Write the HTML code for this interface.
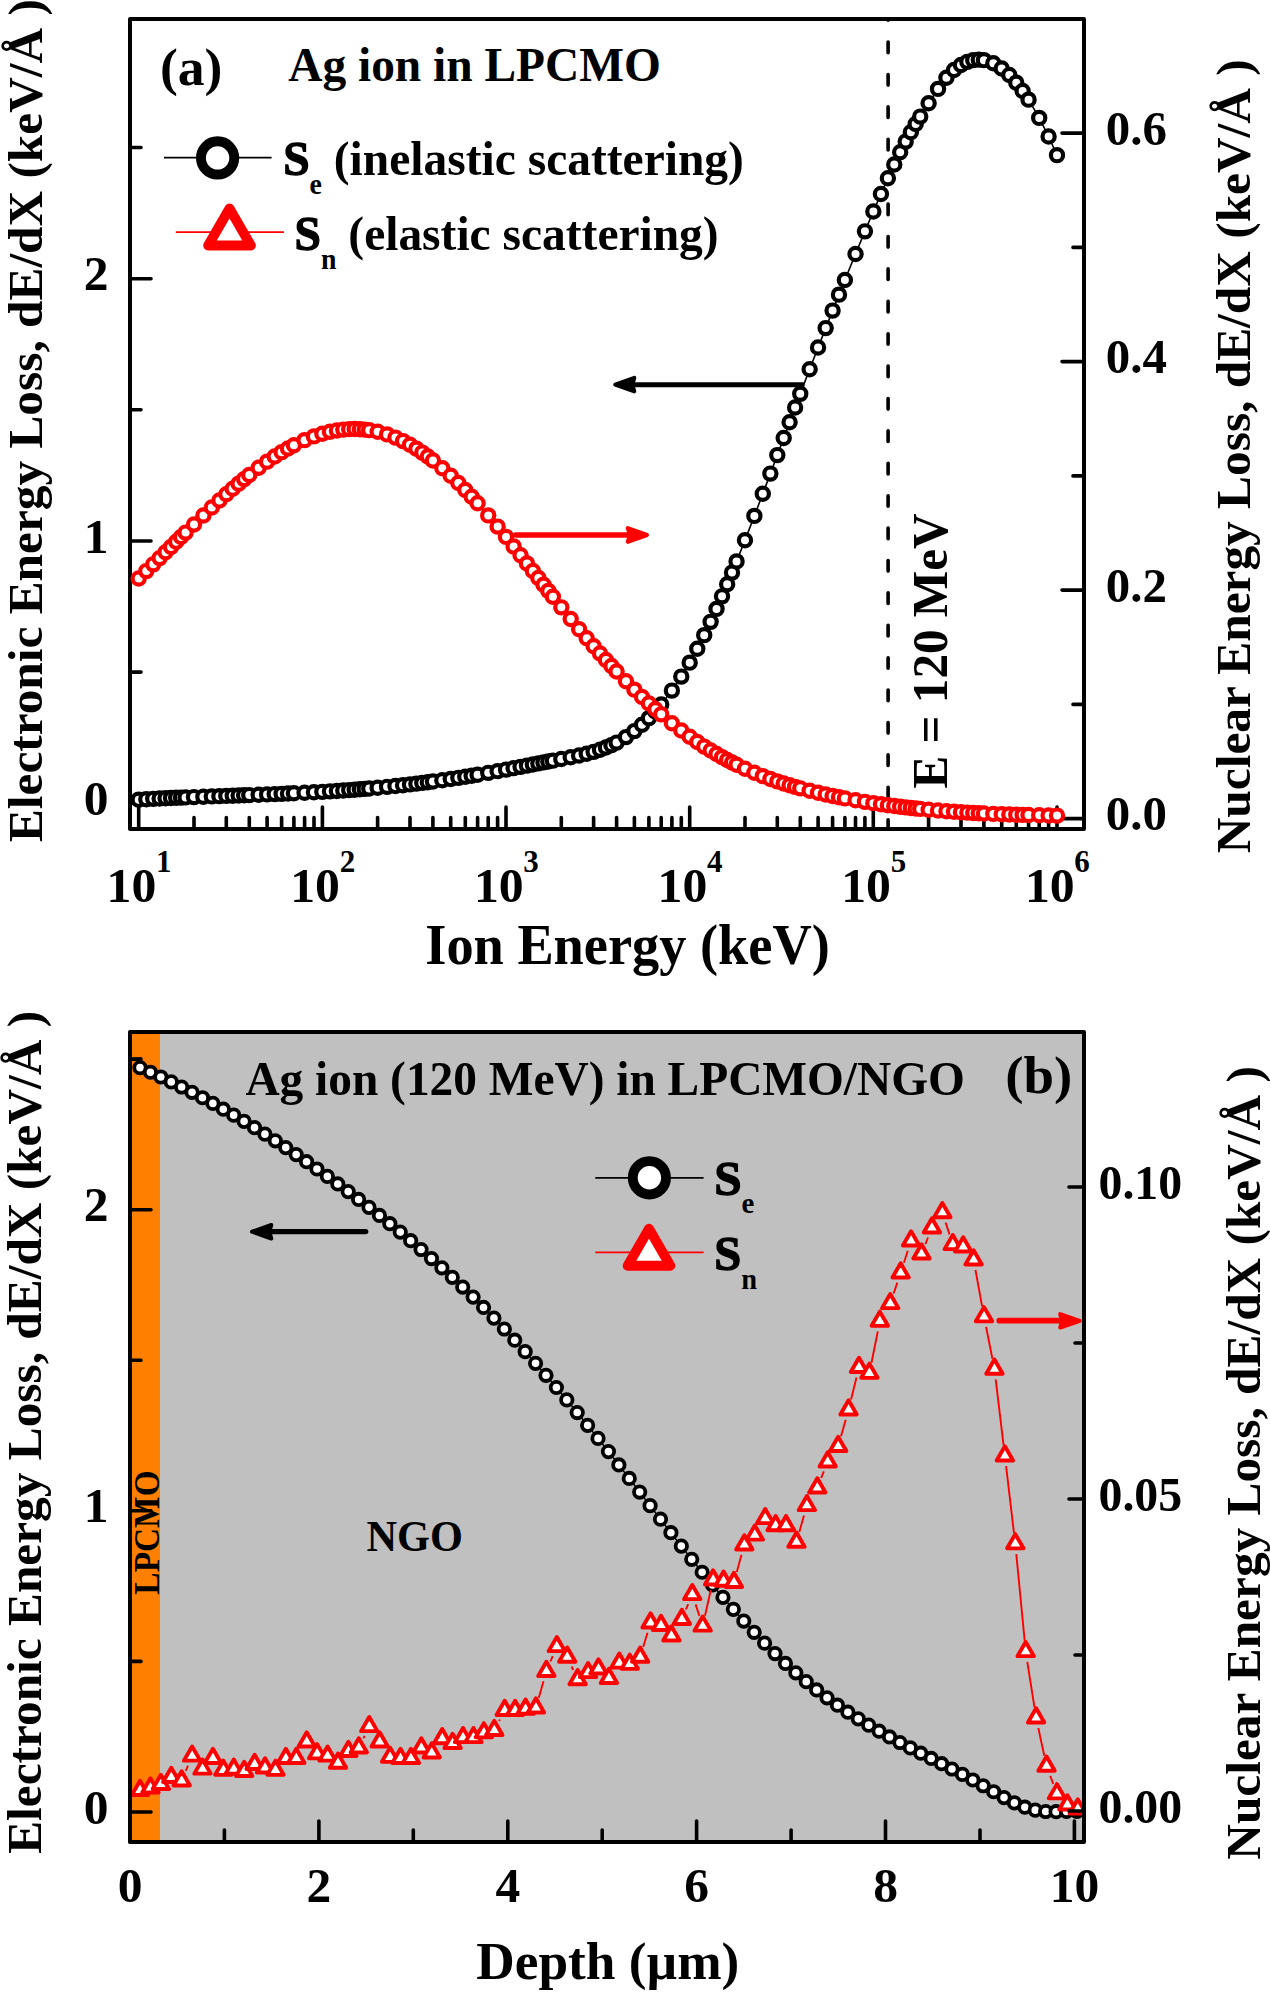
<!DOCTYPE html><html><head><meta charset="utf-8"><title>SRIM stopping power</title><style>html,body{margin:0;padding:0;background:#fff;width:1270px;height:1992px;overflow:hidden}</style></head><body><svg width="1270" height="1992" viewBox="0 0 1270 1992" style="display:block;font-family:'Liberation Serif', serif;font-weight:bold">
<rect width="1270" height="1992" fill="#fff"/>
<path d="M888.1,19.0V20.3M888.1,42.1V52.7M888.1,74.5V85.1M888.1,106.9V117.5M888.1,139.3V149.9M888.1,171.7V182.3M888.1,204.1V214.7M888.1,236.5V247.1M888.1,268.9V279.5M888.1,301.3V311.9M888.1,333.7V344.3M888.1,366.1V376.7M888.1,398.5V409.1M888.1,430.9V441.5M888.1,463.3V473.9M888.1,495.7V506.3M888.1,528.1V538.7M888.1,560.5V571.1M888.1,592.9V603.5M888.1,625.3V635.9M888.1,657.7V668.3M888.1,690.1V700.7M888.1,722.5V733.1M888.1,754.9V765.5M888.1,787.3V797.9M888.1,819.7V829.0" stroke="#000" stroke-width="3.6" fill="none" stroke-linecap="round"/>
<path d="M130,803.3H151M130,541.0H151M130,278.7H151M130,672.1H141M130,409.8H141M130,147.5H141M1084,818.6H1062M1084,590.1H1062M1084,361.6H1062M1084,133.1H1062M1084,704.4H1073M1084,475.9H1073M1084,247.4H1073M138.7,829V807M194.0,829V817.5M226.3,829V817.5M249.3,829V817.5M267.1,829V817.5M281.6,829V817.5M293.9,829V817.5M304.6,829V817.5M314.0,829V817.5M322.4,829V807M377.6,829V817.5M410.0,829V817.5M432.9,829V817.5M450.7,829V817.5M465.3,829V817.5M477.6,829V817.5M488.2,829V817.5M497.6,829V817.5M506.0,829V807M561.3,829V817.5M593.6,829V817.5M616.6,829V817.5M634.4,829V817.5M648.9,829V817.5M661.2,829V817.5M671.9,829V817.5M681.3,829V817.5M689.7,829V807M745.0,829V817.5M777.3,829V817.5M800.3,829V817.5M818.1,829V817.5M832.6,829V817.5M844.9,829V817.5M855.5,829V817.5M864.9,829V817.5M873.3,829V807M928.6,829V817.5M961.0,829V817.5M983.9,829V817.5M1001.7,829V817.5M1016.3,829V817.5M1028.6,829V817.5M1039.2,829V817.5M1048.6,829V817.5M1057.0,829V807" stroke="#000" stroke-width="3.6" fill="none" stroke-linecap="round"/>
<rect x="130" y="19" width="954" height="810" fill="none" stroke="#000" stroke-width="4" stroke-linejoin="round"/>
<polyline points="138.7,799.6 146.3,799.2 153.2,798.9 159.6,798.6 165.5,798.3 171.0,798.0 176.2,797.8 181.0,797.6 185.6,797.4 194.0,797.1 203.4,796.7 211.8,796.4 219.4,796.2 226.3,795.9 232.7,795.7 238.6,795.5 244.1,795.3 249.3,795.1 258.7,794.7 267.1,794.4 274.7,794.1 281.6,793.8 288.0,793.6 293.9,793.3 304.6,792.8 314.0,792.3 322.4,791.8 330.0,791.4 336.9,790.9 343.3,790.5 349.2,790.1 354.7,789.7 359.8,789.3 364.7,788.9 369.2,788.5 377.6,787.8 387.0,786.9 395.4,786.0 403.0,785.2 410.0,784.4 416.4,783.6 422.3,782.9 427.8,782.2 432.9,781.5 442.3,780.2 450.7,779.0 458.3,777.9 465.3,776.8 471.7,775.7 477.6,774.7 488.2,772.9 497.6,771.2 506.0,769.6 513.6,768.2 520.6,766.8 526.9,765.6 532.9,764.5 538.4,763.4 543.5,762.4 548.3,761.5 552.9,760.6 561.3,759.1 570.7,757.3 579.1,755.6 586.7,753.8 593.6,751.8 600.0,749.8 605.9,747.5 611.4,745.1 616.6,742.6 626.0,737.1 634.4,731.1 642.0,724.7 648.9,718.2 655.3,711.4 661.2,704.5 671.9,690.6 681.3,676.6 689.7,662.6 697.3,648.8 704.2,635.2 710.6,621.8 716.5,608.9 722.0,596.3 727.2,584.3 732.0,572.6 736.6,561.4 745.0,540.2 754.4,515.9 762.8,493.8 770.4,473.6 777.3,455.1 783.7,438.0 789.6,422.2 795.1,407.5 800.3,393.9 809.6,369.2 818.1,347.5 825.7,328.1 832.6,310.6 839.0,294.7 844.9,280.0 855.5,254.0 864.9,231.4 873.3,211.5 880.9,194.0 887.9,178.3 894.3,164.4 900.2,152.2 905.7,141.6 910.8,132.3 915.7,124.1 920.2,116.6 928.6,103.3 938.0,88.9 946.4,77.7 954.0,70.0 961.0,65.0 967.4,61.8 973.3,60.2 978.8,59.7 983.9,60.1 993.3,63.2 1001.7,68.4 1009.3,75.1 1016.3,82.7 1022.6,90.9 1028.6,99.7 1039.2,117.9 1048.6,136.5 1057.0,155.1" fill="none" stroke="#000" stroke-width="1.6"/>
<circle cx="138.70" cy="799.64" r="6.1" fill="#fff" stroke="#000" stroke-width="4.2"/>
<circle cx="146.30" cy="799.22" r="6.1" fill="#fff" stroke="#000" stroke-width="4.2"/>
<circle cx="153.24" cy="798.87" r="6.1" fill="#fff" stroke="#000" stroke-width="4.2"/>
<circle cx="159.63" cy="798.55" r="6.1" fill="#fff" stroke="#000" stroke-width="4.2"/>
<circle cx="165.54" cy="798.27" r="6.1" fill="#fff" stroke="#000" stroke-width="4.2"/>
<circle cx="171.04" cy="798.03" r="6.1" fill="#fff" stroke="#000" stroke-width="4.2"/>
<circle cx="176.19" cy="797.80" r="6.1" fill="#fff" stroke="#000" stroke-width="4.2"/>
<circle cx="181.02" cy="797.60" r="6.1" fill="#fff" stroke="#000" stroke-width="4.2"/>
<circle cx="185.58" cy="797.41" r="6.1" fill="#fff" stroke="#000" stroke-width="4.2"/>
<circle cx="193.99" cy="797.08" r="6.1" fill="#fff" stroke="#000" stroke-width="4.2"/>
<circle cx="203.38" cy="796.73" r="6.1" fill="#fff" stroke="#000" stroke-width="4.2"/>
<circle cx="211.79" cy="796.42" r="6.1" fill="#fff" stroke="#000" stroke-width="4.2"/>
<circle cx="219.39" cy="796.15" r="6.1" fill="#fff" stroke="#000" stroke-width="4.2"/>
<circle cx="226.33" cy="795.90" r="6.1" fill="#fff" stroke="#000" stroke-width="4.2"/>
<circle cx="232.71" cy="795.68" r="6.1" fill="#fff" stroke="#000" stroke-width="4.2"/>
<circle cx="238.62" cy="795.47" r="6.1" fill="#fff" stroke="#000" stroke-width="4.2"/>
<circle cx="244.13" cy="795.27" r="6.1" fill="#fff" stroke="#000" stroke-width="4.2"/>
<circle cx="249.27" cy="795.09" r="6.1" fill="#fff" stroke="#000" stroke-width="4.2"/>
<circle cx="258.67" cy="794.74" r="6.1" fill="#fff" stroke="#000" stroke-width="4.2"/>
<circle cx="267.07" cy="794.42" r="6.1" fill="#fff" stroke="#000" stroke-width="4.2"/>
<circle cx="274.68" cy="794.12" r="6.1" fill="#fff" stroke="#000" stroke-width="4.2"/>
<circle cx="281.62" cy="793.83" r="6.1" fill="#fff" stroke="#000" stroke-width="4.2"/>
<circle cx="288.00" cy="793.56" r="6.1" fill="#fff" stroke="#000" stroke-width="4.2"/>
<circle cx="293.91" cy="793.29" r="6.1" fill="#fff" stroke="#000" stroke-width="4.2"/>
<circle cx="304.56" cy="792.78" r="6.1" fill="#fff" stroke="#000" stroke-width="4.2"/>
<circle cx="313.96" cy="792.29" r="6.1" fill="#fff" stroke="#000" stroke-width="4.2"/>
<circle cx="322.36" cy="791.83" r="6.1" fill="#fff" stroke="#000" stroke-width="4.2"/>
<circle cx="329.96" cy="791.37" r="6.1" fill="#fff" stroke="#000" stroke-width="4.2"/>
<circle cx="336.90" cy="790.94" r="6.1" fill="#fff" stroke="#000" stroke-width="4.2"/>
<circle cx="343.29" cy="790.51" r="6.1" fill="#fff" stroke="#000" stroke-width="4.2"/>
<circle cx="349.20" cy="790.09" r="6.1" fill="#fff" stroke="#000" stroke-width="4.2"/>
<circle cx="354.70" cy="789.68" r="6.1" fill="#fff" stroke="#000" stroke-width="4.2"/>
<circle cx="359.85" cy="789.28" r="6.1" fill="#fff" stroke="#000" stroke-width="4.2"/>
<circle cx="364.68" cy="788.89" r="6.1" fill="#fff" stroke="#000" stroke-width="4.2"/>
<circle cx="369.24" cy="788.51" r="6.1" fill="#fff" stroke="#000" stroke-width="4.2"/>
<circle cx="377.65" cy="787.76" r="6.1" fill="#fff" stroke="#000" stroke-width="4.2"/>
<circle cx="387.04" cy="786.86" r="6.1" fill="#fff" stroke="#000" stroke-width="4.2"/>
<circle cx="395.45" cy="786.01" r="6.1" fill="#fff" stroke="#000" stroke-width="4.2"/>
<circle cx="403.05" cy="785.19" r="6.1" fill="#fff" stroke="#000" stroke-width="4.2"/>
<circle cx="409.99" cy="784.40" r="6.1" fill="#fff" stroke="#000" stroke-width="4.2"/>
<circle cx="416.37" cy="783.64" r="6.1" fill="#fff" stroke="#000" stroke-width="4.2"/>
<circle cx="422.28" cy="782.91" r="6.1" fill="#fff" stroke="#000" stroke-width="4.2"/>
<circle cx="427.79" cy="782.21" r="6.1" fill="#fff" stroke="#000" stroke-width="4.2"/>
<circle cx="432.93" cy="781.53" r="6.1" fill="#fff" stroke="#000" stroke-width="4.2"/>
<circle cx="442.33" cy="780.24" r="6.1" fill="#fff" stroke="#000" stroke-width="4.2"/>
<circle cx="450.73" cy="779.02" r="6.1" fill="#fff" stroke="#000" stroke-width="4.2"/>
<circle cx="458.34" cy="777.87" r="6.1" fill="#fff" stroke="#000" stroke-width="4.2"/>
<circle cx="465.28" cy="776.77" r="6.1" fill="#fff" stroke="#000" stroke-width="4.2"/>
<circle cx="471.66" cy="775.73" r="6.1" fill="#fff" stroke="#000" stroke-width="4.2"/>
<circle cx="477.57" cy="774.74" r="6.1" fill="#fff" stroke="#000" stroke-width="4.2"/>
<circle cx="488.22" cy="772.87" r="6.1" fill="#fff" stroke="#000" stroke-width="4.2"/>
<circle cx="497.62" cy="771.17" r="6.1" fill="#fff" stroke="#000" stroke-width="4.2"/>
<circle cx="506.02" cy="769.60" r="6.1" fill="#fff" stroke="#000" stroke-width="4.2"/>
<circle cx="513.62" cy="768.17" r="6.1" fill="#fff" stroke="#000" stroke-width="4.2"/>
<circle cx="520.56" cy="766.84" r="6.1" fill="#fff" stroke="#000" stroke-width="4.2"/>
<circle cx="526.95" cy="765.61" r="6.1" fill="#fff" stroke="#000" stroke-width="4.2"/>
<circle cx="532.86" cy="764.47" r="6.1" fill="#fff" stroke="#000" stroke-width="4.2"/>
<circle cx="538.36" cy="763.41" r="6.1" fill="#fff" stroke="#000" stroke-width="4.2"/>
<circle cx="543.51" cy="762.42" r="6.1" fill="#fff" stroke="#000" stroke-width="4.2"/>
<circle cx="548.34" cy="761.50" r="6.1" fill="#fff" stroke="#000" stroke-width="4.2"/>
<circle cx="552.90" cy="760.64" r="6.1" fill="#fff" stroke="#000" stroke-width="4.2"/>
<circle cx="561.31" cy="759.06" r="6.1" fill="#fff" stroke="#000" stroke-width="4.2"/>
<circle cx="570.70" cy="757.29" r="6.1" fill="#fff" stroke="#000" stroke-width="4.2"/>
<circle cx="579.11" cy="755.56" r="6.1" fill="#fff" stroke="#000" stroke-width="4.2"/>
<circle cx="586.71" cy="753.76" r="6.1" fill="#fff" stroke="#000" stroke-width="4.2"/>
<circle cx="593.65" cy="751.84" r="6.1" fill="#fff" stroke="#000" stroke-width="4.2"/>
<circle cx="600.03" cy="749.76" r="6.1" fill="#fff" stroke="#000" stroke-width="4.2"/>
<circle cx="605.94" cy="747.53" r="6.1" fill="#fff" stroke="#000" stroke-width="4.2"/>
<circle cx="611.45" cy="745.14" r="6.1" fill="#fff" stroke="#000" stroke-width="4.2"/>
<circle cx="616.59" cy="742.59" r="6.1" fill="#fff" stroke="#000" stroke-width="4.2"/>
<circle cx="625.99" cy="737.08" r="6.1" fill="#fff" stroke="#000" stroke-width="4.2"/>
<circle cx="634.39" cy="731.08" r="6.1" fill="#fff" stroke="#000" stroke-width="4.2"/>
<circle cx="642.00" cy="724.74" r="6.1" fill="#fff" stroke="#000" stroke-width="4.2"/>
<circle cx="648.94" cy="718.15" r="6.1" fill="#fff" stroke="#000" stroke-width="4.2"/>
<circle cx="655.32" cy="711.40" r="6.1" fill="#fff" stroke="#000" stroke-width="4.2"/>
<circle cx="661.23" cy="704.53" r="6.1" fill="#fff" stroke="#000" stroke-width="4.2"/>
<circle cx="671.88" cy="690.60" r="6.1" fill="#fff" stroke="#000" stroke-width="4.2"/>
<circle cx="681.28" cy="676.59" r="6.1" fill="#fff" stroke="#000" stroke-width="4.2"/>
<circle cx="689.68" cy="662.63" r="6.1" fill="#fff" stroke="#000" stroke-width="4.2"/>
<circle cx="697.28" cy="648.80" r="6.1" fill="#fff" stroke="#000" stroke-width="4.2"/>
<circle cx="704.22" cy="635.16" r="6.1" fill="#fff" stroke="#000" stroke-width="4.2"/>
<circle cx="710.61" cy="621.83" r="6.1" fill="#fff" stroke="#000" stroke-width="4.2"/>
<circle cx="716.52" cy="608.88" r="6.1" fill="#fff" stroke="#000" stroke-width="4.2"/>
<circle cx="722.02" cy="596.35" r="6.1" fill="#fff" stroke="#000" stroke-width="4.2"/>
<circle cx="727.17" cy="584.26" r="6.1" fill="#fff" stroke="#000" stroke-width="4.2"/>
<circle cx="732.00" cy="572.61" r="6.1" fill="#fff" stroke="#000" stroke-width="4.2"/>
<circle cx="736.56" cy="561.39" r="6.1" fill="#fff" stroke="#000" stroke-width="4.2"/>
<circle cx="744.97" cy="540.20" r="6.1" fill="#fff" stroke="#000" stroke-width="4.2"/>
<circle cx="754.36" cy="515.92" r="6.1" fill="#fff" stroke="#000" stroke-width="4.2"/>
<circle cx="762.77" cy="493.82" r="6.1" fill="#fff" stroke="#000" stroke-width="4.2"/>
<circle cx="770.37" cy="473.62" r="6.1" fill="#fff" stroke="#000" stroke-width="4.2"/>
<circle cx="777.31" cy="455.08" r="6.1" fill="#fff" stroke="#000" stroke-width="4.2"/>
<circle cx="783.69" cy="438.00" r="6.1" fill="#fff" stroke="#000" stroke-width="4.2"/>
<circle cx="789.60" cy="422.19" r="6.1" fill="#fff" stroke="#000" stroke-width="4.2"/>
<circle cx="795.11" cy="407.53" r="6.1" fill="#fff" stroke="#000" stroke-width="4.2"/>
<circle cx="800.25" cy="393.87" r="6.1" fill="#fff" stroke="#000" stroke-width="4.2"/>
<circle cx="809.65" cy="369.20" r="6.1" fill="#fff" stroke="#000" stroke-width="4.2"/>
<circle cx="818.05" cy="347.47" r="6.1" fill="#fff" stroke="#000" stroke-width="4.2"/>
<circle cx="825.66" cy="328.08" r="6.1" fill="#fff" stroke="#000" stroke-width="4.2"/>
<circle cx="832.60" cy="310.59" r="6.1" fill="#fff" stroke="#000" stroke-width="4.2"/>
<circle cx="838.98" cy="294.65" r="6.1" fill="#fff" stroke="#000" stroke-width="4.2"/>
<circle cx="844.89" cy="280.02" r="6.1" fill="#fff" stroke="#000" stroke-width="4.2"/>
<circle cx="855.54" cy="253.96" r="6.1" fill="#fff" stroke="#000" stroke-width="4.2"/>
<circle cx="864.94" cy="231.37" r="6.1" fill="#fff" stroke="#000" stroke-width="4.2"/>
<circle cx="873.34" cy="211.54" r="6.1" fill="#fff" stroke="#000" stroke-width="4.2"/>
<circle cx="880.94" cy="193.97" r="6.1" fill="#fff" stroke="#000" stroke-width="4.2"/>
<circle cx="887.88" cy="178.30" r="6.1" fill="#fff" stroke="#000" stroke-width="4.2"/>
<circle cx="894.27" cy="164.43" r="6.1" fill="#fff" stroke="#000" stroke-width="4.2"/>
<circle cx="900.18" cy="152.23" r="6.1" fill="#fff" stroke="#000" stroke-width="4.2"/>
<circle cx="905.68" cy="141.59" r="6.1" fill="#fff" stroke="#000" stroke-width="4.2"/>
<circle cx="910.83" cy="132.30" r="6.1" fill="#fff" stroke="#000" stroke-width="4.2"/>
<circle cx="915.66" cy="124.06" r="6.1" fill="#fff" stroke="#000" stroke-width="4.2"/>
<circle cx="920.22" cy="116.60" r="6.1" fill="#fff" stroke="#000" stroke-width="4.2"/>
<circle cx="928.63" cy="103.30" r="6.1" fill="#fff" stroke="#000" stroke-width="4.2"/>
<circle cx="938.02" cy="88.91" r="6.1" fill="#fff" stroke="#000" stroke-width="4.2"/>
<circle cx="946.43" cy="77.71" r="6.1" fill="#fff" stroke="#000" stroke-width="4.2"/>
<circle cx="954.03" cy="70.01" r="6.1" fill="#fff" stroke="#000" stroke-width="4.2"/>
<circle cx="960.97" cy="64.97" r="6.1" fill="#fff" stroke="#000" stroke-width="4.2"/>
<circle cx="967.35" cy="61.83" r="6.1" fill="#fff" stroke="#000" stroke-width="4.2"/>
<circle cx="973.26" cy="60.16" r="6.1" fill="#fff" stroke="#000" stroke-width="4.2"/>
<circle cx="978.77" cy="59.67" r="6.1" fill="#fff" stroke="#000" stroke-width="4.2"/>
<circle cx="983.91" cy="60.13" r="6.1" fill="#fff" stroke="#000" stroke-width="4.2"/>
<circle cx="993.31" cy="63.22" r="6.1" fill="#fff" stroke="#000" stroke-width="4.2"/>
<circle cx="1001.71" cy="68.43" r="6.1" fill="#fff" stroke="#000" stroke-width="4.2"/>
<circle cx="1009.32" cy="75.06" r="6.1" fill="#fff" stroke="#000" stroke-width="4.2"/>
<circle cx="1016.26" cy="82.67" r="6.1" fill="#fff" stroke="#000" stroke-width="4.2"/>
<circle cx="1022.64" cy="90.95" r="6.1" fill="#fff" stroke="#000" stroke-width="4.2"/>
<circle cx="1028.55" cy="99.67" r="6.1" fill="#fff" stroke="#000" stroke-width="4.2"/>
<circle cx="1039.20" cy="117.88" r="6.1" fill="#fff" stroke="#000" stroke-width="4.2"/>
<circle cx="1048.60" cy="136.52" r="6.1" fill="#fff" stroke="#000" stroke-width="4.2"/>
<circle cx="1057.00" cy="155.15" r="6.1" fill="#fff" stroke="#000" stroke-width="4.2"/>
<polyline points="138.7,578.4 146.3,571.1 153.2,564.4 159.6,558.1 165.5,552.3 171.0,546.9 176.2,541.8 181.0,537.1 185.6,532.6 194.0,524.4 203.4,515.4 211.8,507.5 219.4,500.5 226.3,494.3 232.7,488.7 238.6,483.7 244.1,479.1 249.3,475.0 258.7,467.7 267.1,461.7 274.7,456.5 281.6,452.2 288.0,448.4 293.9,445.2 304.6,440.1 314.0,436.4 322.4,433.7 330.0,431.8 336.9,430.4 343.3,429.6 349.2,429.2 354.7,429.1 359.8,429.2 364.7,429.6 369.2,430.2 377.6,431.8 387.0,434.4 395.4,437.6 403.0,441.1 410.0,444.8 416.4,448.7 422.3,452.6 427.8,456.5 432.9,460.5 442.3,468.2 450.7,475.7 458.3,483.0 465.3,490.0 471.7,496.8 477.6,503.2 488.2,515.4 497.6,526.6 506.0,536.9 513.6,546.4 520.6,555.2 526.9,563.4 532.9,571.0 538.4,578.1 543.5,584.7 548.3,590.9 552.9,596.7 561.3,607.4 570.7,619.0 579.1,629.2 586.7,638.2 593.6,646.3 600.0,653.5 605.9,660.1 611.4,666.0 616.6,671.5 626.0,681.3 634.4,689.7 642.0,697.0 648.9,703.4 655.3,709.2 661.2,714.3 671.9,723.2 681.3,730.5 689.7,736.7 697.3,742.0 704.2,746.6 710.6,750.6 716.5,754.1 722.0,757.2 727.2,759.9 732.0,762.5 736.6,764.7 745.0,768.7 754.4,772.8 762.8,776.1 770.4,779.0 777.3,781.4 783.7,783.5 789.6,785.3 795.1,786.9 800.3,788.3 809.6,790.8 818.1,792.8 825.7,794.5 832.6,796.0 839.0,797.3 844.9,798.4 855.5,800.3 864.9,801.8 873.3,803.1 880.9,804.2 887.9,805.2 894.3,806.0 900.2,806.7 905.7,807.4 910.8,808.0 915.7,808.5 920.2,808.9 928.6,809.7 938.0,810.5 946.4,811.2 954.0,811.7 961.0,812.2 967.4,812.6 973.3,812.9 978.8,813.2 983.9,813.5 993.3,813.9 1001.7,814.2 1009.3,814.5 1016.3,814.7 1022.6,814.9 1028.6,815.0 1039.2,815.3 1048.6,815.5 1057.0,815.6" fill="none" stroke="#f00" stroke-width="1.6"/>
<circle cx="138.70" cy="578.43" r="6.1" fill="#fff" stroke="#f00" stroke-width="4.2"/>
<circle cx="146.30" cy="571.11" r="6.1" fill="#fff" stroke="#f00" stroke-width="4.2"/>
<circle cx="153.24" cy="564.36" r="6.1" fill="#fff" stroke="#f00" stroke-width="4.2"/>
<circle cx="159.63" cy="558.10" r="6.1" fill="#fff" stroke="#f00" stroke-width="4.2"/>
<circle cx="165.54" cy="552.29" r="6.1" fill="#fff" stroke="#f00" stroke-width="4.2"/>
<circle cx="171.04" cy="546.88" r="6.1" fill="#fff" stroke="#f00" stroke-width="4.2"/>
<circle cx="176.19" cy="541.81" r="6.1" fill="#fff" stroke="#f00" stroke-width="4.2"/>
<circle cx="181.02" cy="537.06" r="6.1" fill="#fff" stroke="#f00" stroke-width="4.2"/>
<circle cx="185.58" cy="532.60" r="6.1" fill="#fff" stroke="#f00" stroke-width="4.2"/>
<circle cx="193.99" cy="524.43" r="6.1" fill="#fff" stroke="#f00" stroke-width="4.2"/>
<circle cx="203.38" cy="515.43" r="6.1" fill="#fff" stroke="#f00" stroke-width="4.2"/>
<circle cx="211.79" cy="507.53" r="6.1" fill="#fff" stroke="#f00" stroke-width="4.2"/>
<circle cx="219.39" cy="500.53" r="6.1" fill="#fff" stroke="#f00" stroke-width="4.2"/>
<circle cx="226.33" cy="494.30" r="6.1" fill="#fff" stroke="#f00" stroke-width="4.2"/>
<circle cx="232.71" cy="488.70" r="6.1" fill="#fff" stroke="#f00" stroke-width="4.2"/>
<circle cx="238.62" cy="483.67" r="6.1" fill="#fff" stroke="#f00" stroke-width="4.2"/>
<circle cx="244.13" cy="479.11" r="6.1" fill="#fff" stroke="#f00" stroke-width="4.2"/>
<circle cx="249.27" cy="474.96" r="6.1" fill="#fff" stroke="#f00" stroke-width="4.2"/>
<circle cx="258.67" cy="467.73" r="6.1" fill="#fff" stroke="#f00" stroke-width="4.2"/>
<circle cx="267.07" cy="461.67" r="6.1" fill="#fff" stroke="#f00" stroke-width="4.2"/>
<circle cx="274.68" cy="456.53" r="6.1" fill="#fff" stroke="#f00" stroke-width="4.2"/>
<circle cx="281.62" cy="452.17" r="6.1" fill="#fff" stroke="#f00" stroke-width="4.2"/>
<circle cx="288.00" cy="448.44" r="6.1" fill="#fff" stroke="#f00" stroke-width="4.2"/>
<circle cx="293.91" cy="445.24" r="6.1" fill="#fff" stroke="#f00" stroke-width="4.2"/>
<circle cx="304.56" cy="440.15" r="6.1" fill="#fff" stroke="#f00" stroke-width="4.2"/>
<circle cx="313.96" cy="436.41" r="6.1" fill="#fff" stroke="#f00" stroke-width="4.2"/>
<circle cx="322.36" cy="433.69" r="6.1" fill="#fff" stroke="#f00" stroke-width="4.2"/>
<circle cx="329.96" cy="431.75" r="6.1" fill="#fff" stroke="#f00" stroke-width="4.2"/>
<circle cx="336.90" cy="430.43" r="6.1" fill="#fff" stroke="#f00" stroke-width="4.2"/>
<circle cx="343.29" cy="429.60" r="6.1" fill="#fff" stroke="#f00" stroke-width="4.2"/>
<circle cx="349.20" cy="429.16" r="6.1" fill="#fff" stroke="#f00" stroke-width="4.2"/>
<circle cx="354.70" cy="429.05" r="6.1" fill="#fff" stroke="#f00" stroke-width="4.2"/>
<circle cx="359.85" cy="429.21" r="6.1" fill="#fff" stroke="#f00" stroke-width="4.2"/>
<circle cx="364.68" cy="429.59" r="6.1" fill="#fff" stroke="#f00" stroke-width="4.2"/>
<circle cx="369.24" cy="430.17" r="6.1" fill="#fff" stroke="#f00" stroke-width="4.2"/>
<circle cx="377.65" cy="431.77" r="6.1" fill="#fff" stroke="#f00" stroke-width="4.2"/>
<circle cx="387.04" cy="434.42" r="6.1" fill="#fff" stroke="#f00" stroke-width="4.2"/>
<circle cx="395.45" cy="437.58" r="6.1" fill="#fff" stroke="#f00" stroke-width="4.2"/>
<circle cx="403.05" cy="441.09" r="6.1" fill="#fff" stroke="#f00" stroke-width="4.2"/>
<circle cx="409.99" cy="444.82" r="6.1" fill="#fff" stroke="#f00" stroke-width="4.2"/>
<circle cx="416.37" cy="448.67" r="6.1" fill="#fff" stroke="#f00" stroke-width="4.2"/>
<circle cx="422.28" cy="452.59" r="6.1" fill="#fff" stroke="#f00" stroke-width="4.2"/>
<circle cx="427.79" cy="456.53" r="6.1" fill="#fff" stroke="#f00" stroke-width="4.2"/>
<circle cx="432.93" cy="460.45" r="6.1" fill="#fff" stroke="#f00" stroke-width="4.2"/>
<circle cx="442.33" cy="468.20" r="6.1" fill="#fff" stroke="#f00" stroke-width="4.2"/>
<circle cx="450.73" cy="475.74" r="6.1" fill="#fff" stroke="#f00" stroke-width="4.2"/>
<circle cx="458.34" cy="483.02" r="6.1" fill="#fff" stroke="#f00" stroke-width="4.2"/>
<circle cx="465.28" cy="490.03" r="6.1" fill="#fff" stroke="#f00" stroke-width="4.2"/>
<circle cx="471.66" cy="496.76" r="6.1" fill="#fff" stroke="#f00" stroke-width="4.2"/>
<circle cx="477.57" cy="503.23" r="6.1" fill="#fff" stroke="#f00" stroke-width="4.2"/>
<circle cx="488.22" cy="515.39" r="6.1" fill="#fff" stroke="#f00" stroke-width="4.2"/>
<circle cx="497.62" cy="526.58" r="6.1" fill="#fff" stroke="#f00" stroke-width="4.2"/>
<circle cx="506.02" cy="536.89" r="6.1" fill="#fff" stroke="#f00" stroke-width="4.2"/>
<circle cx="513.62" cy="546.41" r="6.1" fill="#fff" stroke="#f00" stroke-width="4.2"/>
<circle cx="520.56" cy="555.21" r="6.1" fill="#fff" stroke="#f00" stroke-width="4.2"/>
<circle cx="526.95" cy="563.38" r="6.1" fill="#fff" stroke="#f00" stroke-width="4.2"/>
<circle cx="532.86" cy="570.98" r="6.1" fill="#fff" stroke="#f00" stroke-width="4.2"/>
<circle cx="538.36" cy="578.07" r="6.1" fill="#fff" stroke="#f00" stroke-width="4.2"/>
<circle cx="543.51" cy="584.69" r="6.1" fill="#fff" stroke="#f00" stroke-width="4.2"/>
<circle cx="548.34" cy="590.89" r="6.1" fill="#fff" stroke="#f00" stroke-width="4.2"/>
<circle cx="552.90" cy="596.72" r="6.1" fill="#fff" stroke="#f00" stroke-width="4.2"/>
<circle cx="561.31" cy="607.35" r="6.1" fill="#fff" stroke="#f00" stroke-width="4.2"/>
<circle cx="570.70" cy="619.03" r="6.1" fill="#fff" stroke="#f00" stroke-width="4.2"/>
<circle cx="579.11" cy="629.22" r="6.1" fill="#fff" stroke="#f00" stroke-width="4.2"/>
<circle cx="586.71" cy="638.23" r="6.1" fill="#fff" stroke="#f00" stroke-width="4.2"/>
<circle cx="593.65" cy="646.27" r="6.1" fill="#fff" stroke="#f00" stroke-width="4.2"/>
<circle cx="600.03" cy="653.51" r="6.1" fill="#fff" stroke="#f00" stroke-width="4.2"/>
<circle cx="605.94" cy="660.07" r="6.1" fill="#fff" stroke="#f00" stroke-width="4.2"/>
<circle cx="611.45" cy="666.05" r="6.1" fill="#fff" stroke="#f00" stroke-width="4.2"/>
<circle cx="616.59" cy="671.54" r="6.1" fill="#fff" stroke="#f00" stroke-width="4.2"/>
<circle cx="625.99" cy="681.27" r="6.1" fill="#fff" stroke="#f00" stroke-width="4.2"/>
<circle cx="634.39" cy="689.65" r="6.1" fill="#fff" stroke="#f00" stroke-width="4.2"/>
<circle cx="642.00" cy="696.98" r="6.1" fill="#fff" stroke="#f00" stroke-width="4.2"/>
<circle cx="648.94" cy="703.44" r="6.1" fill="#fff" stroke="#f00" stroke-width="4.2"/>
<circle cx="655.32" cy="709.18" r="6.1" fill="#fff" stroke="#f00" stroke-width="4.2"/>
<circle cx="661.23" cy="714.33" r="6.1" fill="#fff" stroke="#f00" stroke-width="4.2"/>
<circle cx="671.88" cy="723.19" r="6.1" fill="#fff" stroke="#f00" stroke-width="4.2"/>
<circle cx="681.28" cy="730.54" r="6.1" fill="#fff" stroke="#f00" stroke-width="4.2"/>
<circle cx="689.68" cy="736.73" r="6.1" fill="#fff" stroke="#f00" stroke-width="4.2"/>
<circle cx="697.28" cy="742.02" r="6.1" fill="#fff" stroke="#f00" stroke-width="4.2"/>
<circle cx="704.22" cy="746.58" r="6.1" fill="#fff" stroke="#f00" stroke-width="4.2"/>
<circle cx="710.61" cy="750.55" r="6.1" fill="#fff" stroke="#f00" stroke-width="4.2"/>
<circle cx="716.52" cy="754.06" r="6.1" fill="#fff" stroke="#f00" stroke-width="4.2"/>
<circle cx="722.02" cy="757.17" r="6.1" fill="#fff" stroke="#f00" stroke-width="4.2"/>
<circle cx="727.17" cy="759.95" r="6.1" fill="#fff" stroke="#f00" stroke-width="4.2"/>
<circle cx="732.00" cy="762.45" r="6.1" fill="#fff" stroke="#f00" stroke-width="4.2"/>
<circle cx="736.56" cy="764.72" r="6.1" fill="#fff" stroke="#f00" stroke-width="4.2"/>
<circle cx="744.97" cy="768.68" r="6.1" fill="#fff" stroke="#f00" stroke-width="4.2"/>
<circle cx="754.36" cy="772.76" r="6.1" fill="#fff" stroke="#f00" stroke-width="4.2"/>
<circle cx="762.77" cy="776.13" r="6.1" fill="#fff" stroke="#f00" stroke-width="4.2"/>
<circle cx="770.37" cy="778.96" r="6.1" fill="#fff" stroke="#f00" stroke-width="4.2"/>
<circle cx="777.31" cy="781.38" r="6.1" fill="#fff" stroke="#f00" stroke-width="4.2"/>
<circle cx="783.69" cy="783.47" r="6.1" fill="#fff" stroke="#f00" stroke-width="4.2"/>
<circle cx="789.60" cy="785.30" r="6.1" fill="#fff" stroke="#f00" stroke-width="4.2"/>
<circle cx="795.11" cy="786.91" r="6.1" fill="#fff" stroke="#f00" stroke-width="4.2"/>
<circle cx="800.25" cy="788.35" r="6.1" fill="#fff" stroke="#f00" stroke-width="4.2"/>
<circle cx="809.65" cy="790.80" r="6.1" fill="#fff" stroke="#f00" stroke-width="4.2"/>
<circle cx="818.05" cy="792.82" r="6.1" fill="#fff" stroke="#f00" stroke-width="4.2"/>
<circle cx="825.66" cy="794.52" r="6.1" fill="#fff" stroke="#f00" stroke-width="4.2"/>
<circle cx="832.60" cy="795.98" r="6.1" fill="#fff" stroke="#f00" stroke-width="4.2"/>
<circle cx="838.98" cy="797.25" r="6.1" fill="#fff" stroke="#f00" stroke-width="4.2"/>
<circle cx="844.89" cy="798.38" r="6.1" fill="#fff" stroke="#f00" stroke-width="4.2"/>
<circle cx="855.54" cy="800.28" r="6.1" fill="#fff" stroke="#f00" stroke-width="4.2"/>
<circle cx="864.94" cy="801.84" r="6.1" fill="#fff" stroke="#f00" stroke-width="4.2"/>
<circle cx="873.34" cy="803.15" r="6.1" fill="#fff" stroke="#f00" stroke-width="4.2"/>
<circle cx="880.94" cy="804.25" r="6.1" fill="#fff" stroke="#f00" stroke-width="4.2"/>
<circle cx="887.88" cy="805.20" r="6.1" fill="#fff" stroke="#f00" stroke-width="4.2"/>
<circle cx="894.27" cy="806.02" r="6.1" fill="#fff" stroke="#f00" stroke-width="4.2"/>
<circle cx="900.18" cy="806.74" r="6.1" fill="#fff" stroke="#f00" stroke-width="4.2"/>
<circle cx="905.68" cy="807.38" r="6.1" fill="#fff" stroke="#f00" stroke-width="4.2"/>
<circle cx="910.83" cy="807.95" r="6.1" fill="#fff" stroke="#f00" stroke-width="4.2"/>
<circle cx="915.66" cy="808.46" r="6.1" fill="#fff" stroke="#f00" stroke-width="4.2"/>
<circle cx="920.22" cy="808.92" r="6.1" fill="#fff" stroke="#f00" stroke-width="4.2"/>
<circle cx="928.63" cy="809.72" r="6.1" fill="#fff" stroke="#f00" stroke-width="4.2"/>
<circle cx="938.02" cy="810.53" r="6.1" fill="#fff" stroke="#f00" stroke-width="4.2"/>
<circle cx="946.43" cy="811.19" r="6.1" fill="#fff" stroke="#f00" stroke-width="4.2"/>
<circle cx="954.03" cy="811.74" r="6.1" fill="#fff" stroke="#f00" stroke-width="4.2"/>
<circle cx="960.97" cy="812.20" r="6.1" fill="#fff" stroke="#f00" stroke-width="4.2"/>
<circle cx="967.35" cy="812.59" r="6.1" fill="#fff" stroke="#f00" stroke-width="4.2"/>
<circle cx="973.26" cy="812.93" r="6.1" fill="#fff" stroke="#f00" stroke-width="4.2"/>
<circle cx="978.77" cy="813.22" r="6.1" fill="#fff" stroke="#f00" stroke-width="4.2"/>
<circle cx="983.91" cy="813.47" r="6.1" fill="#fff" stroke="#f00" stroke-width="4.2"/>
<circle cx="993.31" cy="813.89" r="6.1" fill="#fff" stroke="#f00" stroke-width="4.2"/>
<circle cx="1001.71" cy="814.22" r="6.1" fill="#fff" stroke="#f00" stroke-width="4.2"/>
<circle cx="1009.32" cy="814.49" r="6.1" fill="#fff" stroke="#f00" stroke-width="4.2"/>
<circle cx="1016.26" cy="814.71" r="6.1" fill="#fff" stroke="#f00" stroke-width="4.2"/>
<circle cx="1022.64" cy="814.89" r="6.1" fill="#fff" stroke="#f00" stroke-width="4.2"/>
<circle cx="1028.55" cy="815.04" r="6.1" fill="#fff" stroke="#f00" stroke-width="4.2"/>
<circle cx="1039.20" cy="815.28" r="6.1" fill="#fff" stroke="#f00" stroke-width="4.2"/>
<circle cx="1048.60" cy="815.45" r="6.1" fill="#fff" stroke="#f00" stroke-width="4.2"/>
<circle cx="1057.00" cy="815.59" r="6.1" fill="#fff" stroke="#f00" stroke-width="4.2"/>
<text x="108.50" y="815.00" font-size="49.5" text-anchor="end" >0</text>
<text x="108.50" y="552.70" font-size="49.5" text-anchor="end" >1</text>
<text x="108.50" y="290.40" font-size="49.5" text-anchor="end" >2</text>
<text x="1105.72" y="830.4" font-size="49.5" textLength="61.13" lengthAdjust="spacingAndGlyphs">0.0</text>
<text x="1105.72" y="601.9" font-size="49.5" textLength="61.13" lengthAdjust="spacingAndGlyphs">0.2</text>
<text x="1105.72" y="373.4" font-size="49.5" textLength="61.13" lengthAdjust="spacingAndGlyphs">0.4</text>
<text x="1105.72" y="144.9" font-size="49.5" textLength="61.13" lengthAdjust="spacingAndGlyphs">0.6</text>
<text x="106.58" y="902.1" font-size="49.5" textLength="49.73" lengthAdjust="spacingAndGlyphs">10</text>
<text x="156.00" y="871.9" font-size="31">1</text>
<text x="290.24" y="902.1" font-size="49.5" textLength="49.73" lengthAdjust="spacingAndGlyphs">10</text>
<text x="339.66" y="871.9" font-size="31">2</text>
<text x="473.90" y="902.1" font-size="49.5" textLength="49.73" lengthAdjust="spacingAndGlyphs">10</text>
<text x="523.32" y="871.9" font-size="31">3</text>
<text x="657.56" y="902.1" font-size="49.5" textLength="49.73" lengthAdjust="spacingAndGlyphs">10</text>
<text x="706.98" y="871.9" font-size="31">4</text>
<text x="841.22" y="902.1" font-size="49.5" textLength="49.73" lengthAdjust="spacingAndGlyphs">10</text>
<text x="890.64" y="871.9" font-size="31">5</text>
<text x="1024.88" y="902.1" font-size="49.5" textLength="49.73" lengthAdjust="spacingAndGlyphs">10</text>
<text x="1074.30" y="871.9" font-size="31">6</text>
<path d="M164,157.7H271.6" stroke="#000" stroke-width="1.7"/>
<circle cx="217.60" cy="157.90" r="16.65" fill="#fff" stroke="#000" stroke-width="9.9"/>
<path d="M175.8,232.1H283.9" stroke="#f00" stroke-width="1.7"/>
<path d="M229.50,208.43L250.86,245.43L208.14,245.43Z" fill="#fff" stroke="#f00" stroke-width="9.9" stroke-linejoin="round"/>
<path d="M804.4,384.65H628" stroke="#000" stroke-width="5"/>
<path d="M615.2,384.65L634.3,377.9L632.3,384.65L634.3,391.4Z" fill="#000" stroke="#000" stroke-width="4" stroke-linejoin="round"/>
<path d="M515.7,535H631" stroke="#f00" stroke-width="5.5" stroke-linecap="round"/>
<path d="M647,535L627.8,528.1L629.8,535L627.8,541.9Z" fill="#f00" stroke="#f00" stroke-width="4" stroke-linejoin="round"/>
<text x="159.96" y="84.90" font-size="52.5" textLength="62.51" lengthAdjust="spacingAndGlyphs">(a)</text>
<text x="288.20" y="80.80" font-size="48.5" textLength="372.66" lengthAdjust="spacingAndGlyphs">Ag ion in LPCMO</text>
<text x="283.18" y="174.60" font-size="49.5" textLength="460.71" lengthAdjust="spacingAndGlyphs"><tspan stroke="#000" stroke-width="1.3">S</tspan><tspan font-size="29" dy="19">e</tspan><tspan dy="-19"> (inelastic scattering)</tspan></text>
<text x="294.58" y="250.20" font-size="49.5" textLength="424.09" lengthAdjust="spacingAndGlyphs"><tspan stroke="#000" stroke-width="1.3">S</tspan><tspan font-size="29" dy="18.6">n</tspan><tspan dy="-18.6"> (elastic scattering)</tspan></text>
<text x="425.26" y="964.20" font-size="56" textLength="404.55" lengthAdjust="spacingAndGlyphs">Ion Energy (keV)</text>
<text transform="translate(41.5,842.10) rotate(-90)" font-size="49.5" textLength="842.98" lengthAdjust="spacingAndGlyphs">Electronic Energy Loss, dE/dX (keV/Å )</text>
<text transform="translate(1249.8,853.30) rotate(-90)" font-size="49.5" textLength="794.02" lengthAdjust="spacingAndGlyphs">Nuclear Energy Loss, dE/dX (keV/Å )</text>
<text transform="translate(946.9,788.48) rotate(-90)" font-size="50" textLength="275.01" lengthAdjust="spacingAndGlyphs">E = 120 MeV</text>
<rect x="130" y="1032" width="954" height="810" fill="#c0c0c0"/>
<rect x="130" y="1032" width="30" height="810" fill="#ff8000"/>
<text transform="translate(158.9,1594.64) rotate(-90)" font-size="35.5" textLength="124.24" lengthAdjust="spacingAndGlyphs">LPCMO</text>
<text x="366.56" y="1551.40" font-size="45" textLength="96.41" lengthAdjust="spacingAndGlyphs">NGO</text>
<defs><clipPath id="clipb"><rect x="131" y="1033" width="951.5" height="808"/></clipPath></defs>
<g clip-path="url(#clipb)">
<path d="M130,1059L142,1059" stroke="#000" stroke-width="3"/>
<polyline points="140.0,1067.7 150.4,1072.2 160.8,1077.0 171.2,1081.9 181.6,1087.0 192.1,1092.3 202.5,1097.7 212.9,1103.4 223.3,1109.2 233.7,1115.2 244.1,1121.3 254.5,1127.7 264.9,1134.1 275.3,1140.8 285.7,1147.6 296.1,1154.6 306.6,1161.7 317.0,1169.0 327.4,1176.4 337.8,1183.9 348.2,1191.6 358.6,1199.4 369.0,1207.4 379.4,1215.5 389.8,1223.7 400.2,1232.1 410.7,1240.7 421.1,1249.5 431.5,1258.5 441.9,1267.8 452.3,1277.3 462.7,1287.1 473.1,1297.1 483.5,1307.5 493.9,1318.1 504.4,1329.0 514.8,1340.2 525.2,1351.7 535.6,1363.4 546.0,1375.3 556.4,1387.5 566.8,1399.9 577.2,1412.5 587.6,1425.4 598.0,1438.4 608.5,1451.6 618.9,1465.0 629.3,1478.5 639.7,1492.0 650.1,1505.6 660.5,1519.2 670.9,1532.7 681.3,1546.1 691.7,1559.3 702.1,1572.3 712.5,1584.9 723.0,1597.3 733.4,1609.4 743.8,1621.0 754.2,1632.3 764.6,1643.2 775.0,1653.6 785.4,1663.4 795.8,1672.8 806.2,1681.7 816.6,1690.0 827.1,1697.8 837.5,1705.2 847.9,1712.2 858.3,1718.8 868.7,1725.2 879.1,1731.2 889.5,1737.0 899.9,1742.5 910.3,1747.9 920.8,1753.2 931.2,1758.5 941.6,1763.7 952.0,1769.0 962.4,1774.4 972.8,1780.0 983.2,1785.8 993.6,1791.7 1004.0,1797.6 1014.4,1802.9 1024.8,1807.2 1035.3,1810.2 1045.7,1811.5 1056.1,1811.7 1066.5,1811.4 1076.9,1811.3" fill="none" stroke="#000" stroke-width="1.5"/>
<circle cx="140.00" cy="1067.67" r="5.7" fill="#fff" stroke="#000" stroke-width="3.8"/>
<circle cx="150.41" cy="1072.23" r="5.7" fill="#fff" stroke="#000" stroke-width="3.8"/>
<circle cx="160.82" cy="1076.98" r="5.7" fill="#fff" stroke="#000" stroke-width="3.8"/>
<circle cx="171.23" cy="1081.90" r="5.7" fill="#fff" stroke="#000" stroke-width="3.8"/>
<circle cx="181.64" cy="1087.01" r="5.7" fill="#fff" stroke="#000" stroke-width="3.8"/>
<circle cx="192.05" cy="1092.29" r="5.7" fill="#fff" stroke="#000" stroke-width="3.8"/>
<circle cx="202.46" cy="1097.74" r="5.7" fill="#fff" stroke="#000" stroke-width="3.8"/>
<circle cx="212.87" cy="1103.38" r="5.7" fill="#fff" stroke="#000" stroke-width="3.8"/>
<circle cx="223.28" cy="1109.18" r="5.7" fill="#fff" stroke="#000" stroke-width="3.8"/>
<circle cx="233.69" cy="1115.17" r="5.7" fill="#fff" stroke="#000" stroke-width="3.8"/>
<circle cx="244.10" cy="1121.33" r="5.7" fill="#fff" stroke="#000" stroke-width="3.8"/>
<circle cx="254.51" cy="1127.65" r="5.7" fill="#fff" stroke="#000" stroke-width="3.8"/>
<circle cx="264.92" cy="1134.15" r="5.7" fill="#fff" stroke="#000" stroke-width="3.8"/>
<circle cx="275.33" cy="1140.81" r="5.7" fill="#fff" stroke="#000" stroke-width="3.8"/>
<circle cx="285.74" cy="1147.62" r="5.7" fill="#fff" stroke="#000" stroke-width="3.8"/>
<circle cx="296.15" cy="1154.59" r="5.7" fill="#fff" stroke="#000" stroke-width="3.8"/>
<circle cx="306.56" cy="1161.71" r="5.7" fill="#fff" stroke="#000" stroke-width="3.8"/>
<circle cx="316.97" cy="1168.98" r="5.7" fill="#fff" stroke="#000" stroke-width="3.8"/>
<circle cx="327.38" cy="1176.39" r="5.7" fill="#fff" stroke="#000" stroke-width="3.8"/>
<circle cx="337.79" cy="1183.94" r="5.7" fill="#fff" stroke="#000" stroke-width="3.8"/>
<circle cx="348.20" cy="1191.62" r="5.7" fill="#fff" stroke="#000" stroke-width="3.8"/>
<circle cx="358.61" cy="1199.43" r="5.7" fill="#fff" stroke="#000" stroke-width="3.8"/>
<circle cx="369.02" cy="1207.37" r="5.7" fill="#fff" stroke="#000" stroke-width="3.8"/>
<circle cx="379.43" cy="1215.46" r="5.7" fill="#fff" stroke="#000" stroke-width="3.8"/>
<circle cx="389.84" cy="1223.70" r="5.7" fill="#fff" stroke="#000" stroke-width="3.8"/>
<circle cx="400.25" cy="1232.11" r="5.7" fill="#fff" stroke="#000" stroke-width="3.8"/>
<circle cx="410.66" cy="1240.71" r="5.7" fill="#fff" stroke="#000" stroke-width="3.8"/>
<circle cx="421.07" cy="1249.52" r="5.7" fill="#fff" stroke="#000" stroke-width="3.8"/>
<circle cx="431.48" cy="1258.54" r="5.7" fill="#fff" stroke="#000" stroke-width="3.8"/>
<circle cx="441.89" cy="1267.80" r="5.7" fill="#fff" stroke="#000" stroke-width="3.8"/>
<circle cx="452.30" cy="1277.30" r="5.7" fill="#fff" stroke="#000" stroke-width="3.8"/>
<circle cx="462.71" cy="1287.07" r="5.7" fill="#fff" stroke="#000" stroke-width="3.8"/>
<circle cx="473.12" cy="1297.12" r="5.7" fill="#fff" stroke="#000" stroke-width="3.8"/>
<circle cx="483.53" cy="1307.46" r="5.7" fill="#fff" stroke="#000" stroke-width="3.8"/>
<circle cx="493.94" cy="1318.10" r="5.7" fill="#fff" stroke="#000" stroke-width="3.8"/>
<circle cx="504.35" cy="1329.01" r="5.7" fill="#fff" stroke="#000" stroke-width="3.8"/>
<circle cx="514.76" cy="1340.20" r="5.7" fill="#fff" stroke="#000" stroke-width="3.8"/>
<circle cx="525.17" cy="1351.65" r="5.7" fill="#fff" stroke="#000" stroke-width="3.8"/>
<circle cx="535.58" cy="1363.36" r="5.7" fill="#fff" stroke="#000" stroke-width="3.8"/>
<circle cx="545.99" cy="1375.31" r="5.7" fill="#fff" stroke="#000" stroke-width="3.8"/>
<circle cx="556.40" cy="1387.50" r="5.7" fill="#fff" stroke="#000" stroke-width="3.8"/>
<circle cx="566.81" cy="1399.90" r="5.7" fill="#fff" stroke="#000" stroke-width="3.8"/>
<circle cx="577.22" cy="1412.53" r="5.7" fill="#fff" stroke="#000" stroke-width="3.8"/>
<circle cx="587.63" cy="1425.35" r="5.7" fill="#fff" stroke="#000" stroke-width="3.8"/>
<circle cx="598.04" cy="1438.38" r="5.7" fill="#fff" stroke="#000" stroke-width="3.8"/>
<circle cx="608.45" cy="1451.59" r="5.7" fill="#fff" stroke="#000" stroke-width="3.8"/>
<circle cx="618.86" cy="1464.96" r="5.7" fill="#fff" stroke="#000" stroke-width="3.8"/>
<circle cx="629.27" cy="1478.47" r="5.7" fill="#fff" stroke="#000" stroke-width="3.8"/>
<circle cx="639.68" cy="1492.04" r="5.7" fill="#fff" stroke="#000" stroke-width="3.8"/>
<circle cx="650.09" cy="1505.64" r="5.7" fill="#fff" stroke="#000" stroke-width="3.8"/>
<circle cx="660.50" cy="1519.22" r="5.7" fill="#fff" stroke="#000" stroke-width="3.8"/>
<circle cx="670.91" cy="1532.72" r="5.7" fill="#fff" stroke="#000" stroke-width="3.8"/>
<circle cx="681.32" cy="1546.09" r="5.7" fill="#fff" stroke="#000" stroke-width="3.8"/>
<circle cx="691.73" cy="1559.28" r="5.7" fill="#fff" stroke="#000" stroke-width="3.8"/>
<circle cx="702.14" cy="1572.25" r="5.7" fill="#fff" stroke="#000" stroke-width="3.8"/>
<circle cx="712.55" cy="1584.94" r="5.7" fill="#fff" stroke="#000" stroke-width="3.8"/>
<circle cx="722.96" cy="1597.33" r="5.7" fill="#fff" stroke="#000" stroke-width="3.8"/>
<circle cx="733.37" cy="1609.37" r="5.7" fill="#fff" stroke="#000" stroke-width="3.8"/>
<circle cx="743.78" cy="1621.04" r="5.7" fill="#fff" stroke="#000" stroke-width="3.8"/>
<circle cx="754.19" cy="1632.32" r="5.7" fill="#fff" stroke="#000" stroke-width="3.8"/>
<circle cx="764.60" cy="1643.16" r="5.7" fill="#fff" stroke="#000" stroke-width="3.8"/>
<circle cx="775.01" cy="1653.55" r="5.7" fill="#fff" stroke="#000" stroke-width="3.8"/>
<circle cx="785.42" cy="1663.45" r="5.7" fill="#fff" stroke="#000" stroke-width="3.8"/>
<circle cx="795.83" cy="1672.82" r="5.7" fill="#fff" stroke="#000" stroke-width="3.8"/>
<circle cx="806.24" cy="1681.66" r="5.7" fill="#fff" stroke="#000" stroke-width="3.8"/>
<circle cx="816.65" cy="1689.97" r="5.7" fill="#fff" stroke="#000" stroke-width="3.8"/>
<circle cx="827.06" cy="1697.81" r="5.7" fill="#fff" stroke="#000" stroke-width="3.8"/>
<circle cx="837.47" cy="1705.21" r="5.7" fill="#fff" stroke="#000" stroke-width="3.8"/>
<circle cx="847.88" cy="1712.21" r="5.7" fill="#fff" stroke="#000" stroke-width="3.8"/>
<circle cx="858.29" cy="1718.85" r="5.7" fill="#fff" stroke="#000" stroke-width="3.8"/>
<circle cx="868.70" cy="1725.16" r="5.7" fill="#fff" stroke="#000" stroke-width="3.8"/>
<circle cx="879.11" cy="1731.18" r="5.7" fill="#fff" stroke="#000" stroke-width="3.8"/>
<circle cx="889.52" cy="1736.95" r="5.7" fill="#fff" stroke="#000" stroke-width="3.8"/>
<circle cx="899.93" cy="1742.51" r="5.7" fill="#fff" stroke="#000" stroke-width="3.8"/>
<circle cx="910.34" cy="1747.92" r="5.7" fill="#fff" stroke="#000" stroke-width="3.8"/>
<circle cx="920.75" cy="1753.21" r="5.7" fill="#fff" stroke="#000" stroke-width="3.8"/>
<circle cx="931.16" cy="1758.46" r="5.7" fill="#fff" stroke="#000" stroke-width="3.8"/>
<circle cx="941.57" cy="1763.71" r="5.7" fill="#fff" stroke="#000" stroke-width="3.8"/>
<circle cx="951.98" cy="1769.01" r="5.7" fill="#fff" stroke="#000" stroke-width="3.8"/>
<circle cx="962.39" cy="1774.41" r="5.7" fill="#fff" stroke="#000" stroke-width="3.8"/>
<circle cx="972.80" cy="1779.98" r="5.7" fill="#fff" stroke="#000" stroke-width="3.8"/>
<circle cx="983.21" cy="1785.76" r="5.7" fill="#fff" stroke="#000" stroke-width="3.8"/>
<circle cx="993.62" cy="1791.74" r="5.7" fill="#fff" stroke="#000" stroke-width="3.8"/>
<circle cx="1004.03" cy="1797.58" r="5.7" fill="#fff" stroke="#000" stroke-width="3.8"/>
<circle cx="1014.44" cy="1802.88" r="5.7" fill="#fff" stroke="#000" stroke-width="3.8"/>
<circle cx="1024.85" cy="1807.21" r="5.7" fill="#fff" stroke="#000" stroke-width="3.8"/>
<circle cx="1035.26" cy="1810.17" r="5.7" fill="#fff" stroke="#000" stroke-width="3.8"/>
<circle cx="1045.67" cy="1811.51" r="5.7" fill="#fff" stroke="#000" stroke-width="3.8"/>
<circle cx="1056.08" cy="1811.70" r="5.7" fill="#fff" stroke="#000" stroke-width="3.8"/>
<circle cx="1066.49" cy="1811.41" r="5.7" fill="#fff" stroke="#000" stroke-width="3.8"/>
<circle cx="1076.90" cy="1811.30" r="5.7" fill="#fff" stroke="#000" stroke-width="3.8"/>
</g>
<path d="M130,1812.0H151M130,1510.8H151M130,1209.7H151M130,1661.4H141M130,1360.3H141M130,1059.1H141M130.0,1842V1821M224.4,1842V1830M318.9,1842V1821M413.3,1842V1830M507.8,1842V1821M602.2,1842V1830M696.6,1842V1821M791.1,1842V1830M885.5,1842V1821M980.0,1842V1830M1074.4,1842V1821" stroke="#000" stroke-width="3.6" fill="none" stroke-linecap="round"/>
<g clip-path="url(#clipb)">
<path d="M185.7,1771.0L188.0,1765.6M363.4,1738.3L364.6,1735.8M499.1,1721.0L499.9,1719.5M538.8,1697.7L543.5,1681.3M550.4,1661.5L552.7,1656.1M571.6,1666.5L573.2,1670.0M643.2,1647.0L647.5,1632.8M685.9,1609.5L688.2,1604.1M695.6,1604.4L699.4,1615.9M705.0,1615.7L710.8,1590.0M736.8,1572.1L741.5,1554.8M799.3,1531.9L804.0,1515.5M821.2,1478.0L823.8,1471.4M841.0,1436.2L845.7,1419.8M851.1,1399.5L856.5,1377.4M871.5,1362.8L877.8,1331.4M893.6,1293.5L897.3,1282.6M903.9,1262.7L907.8,1250.8M925.4,1244.1L928.0,1237.5M945.6,1222.5L949.5,1234.4M975.5,1270.0L982.1,1306.3M986.1,1326.9L992.4,1358.7M995.7,1379.4L1003.6,1445.4M1006.1,1466.2L1014.0,1533.2M1016.3,1554.1L1024.7,1640.9M1027.3,1661.8L1034.5,1707.3M1038.3,1728.0L1044.3,1755.7M1050.2,1775.8L1053.3,1783.8" fill="none" stroke="#f00" stroke-width="1.9"/>
<path d="M140.00,1780.73L148.20,1794.93L131.80,1794.93Z" fill="#fff" stroke="#f00" stroke-width="3.9" stroke-linejoin="round"/>
<path d="M150.42,1778.33L158.62,1792.53L142.22,1792.53Z" fill="#fff" stroke="#f00" stroke-width="3.9" stroke-linejoin="round"/>
<path d="M160.84,1774.83L169.04,1789.03L152.64,1789.03Z" fill="#fff" stroke="#f00" stroke-width="3.9" stroke-linejoin="round"/>
<path d="M171.26,1767.73L179.46,1781.93L163.06,1781.93Z" fill="#fff" stroke="#f00" stroke-width="3.9" stroke-linejoin="round"/>
<path d="M181.68,1771.23L189.88,1785.43L173.48,1785.43Z" fill="#fff" stroke="#f00" stroke-width="3.9" stroke-linejoin="round"/>
<path d="M192.10,1746.43L200.30,1760.63L183.90,1760.63Z" fill="#fff" stroke="#f00" stroke-width="3.9" stroke-linejoin="round"/>
<path d="M202.52,1759.43L210.72,1773.63L194.32,1773.63Z" fill="#fff" stroke="#f00" stroke-width="3.9" stroke-linejoin="round"/>
<path d="M212.94,1748.83L221.14,1763.03L204.74,1763.03Z" fill="#fff" stroke="#f00" stroke-width="3.9" stroke-linejoin="round"/>
<path d="M223.36,1760.63L231.56,1774.83L215.16,1774.83Z" fill="#fff" stroke="#f00" stroke-width="3.9" stroke-linejoin="round"/>
<path d="M233.78,1759.43L241.98,1773.63L225.58,1773.63Z" fill="#fff" stroke="#f00" stroke-width="3.9" stroke-linejoin="round"/>
<path d="M244.20,1761.83L252.40,1776.03L236.00,1776.03Z" fill="#fff" stroke="#f00" stroke-width="3.9" stroke-linejoin="round"/>
<path d="M254.62,1754.73L262.82,1768.93L246.42,1768.93Z" fill="#fff" stroke="#f00" stroke-width="3.9" stroke-linejoin="round"/>
<path d="M265.04,1758.23L273.24,1772.43L256.84,1772.43Z" fill="#fff" stroke="#f00" stroke-width="3.9" stroke-linejoin="round"/>
<path d="M275.46,1760.63L283.66,1774.83L267.26,1774.83Z" fill="#fff" stroke="#f00" stroke-width="3.9" stroke-linejoin="round"/>
<path d="M285.88,1748.83L294.08,1763.03L277.68,1763.03Z" fill="#fff" stroke="#f00" stroke-width="3.9" stroke-linejoin="round"/>
<path d="M296.30,1748.83L304.50,1763.03L288.10,1763.03Z" fill="#fff" stroke="#f00" stroke-width="3.9" stroke-linejoin="round"/>
<path d="M306.72,1732.33L314.92,1746.53L298.52,1746.53Z" fill="#fff" stroke="#f00" stroke-width="3.9" stroke-linejoin="round"/>
<path d="M317.14,1744.13L325.34,1758.33L308.94,1758.33Z" fill="#fff" stroke="#f00" stroke-width="3.9" stroke-linejoin="round"/>
<path d="M327.56,1746.43L335.76,1760.63L319.36,1760.63Z" fill="#fff" stroke="#f00" stroke-width="3.9" stroke-linejoin="round"/>
<path d="M337.98,1753.53L346.18,1767.73L329.78,1767.73Z" fill="#fff" stroke="#f00" stroke-width="3.9" stroke-linejoin="round"/>
<path d="M348.40,1741.73L356.60,1755.93L340.20,1755.93Z" fill="#fff" stroke="#f00" stroke-width="3.9" stroke-linejoin="round"/>
<path d="M358.82,1738.23L367.02,1752.43L350.62,1752.43Z" fill="#fff" stroke="#f00" stroke-width="3.9" stroke-linejoin="round"/>
<path d="M369.24,1716.93L377.44,1731.13L361.04,1731.13Z" fill="#fff" stroke="#f00" stroke-width="3.9" stroke-linejoin="round"/>
<path d="M379.66,1732.33L387.86,1746.53L371.46,1746.53Z" fill="#fff" stroke="#f00" stroke-width="3.9" stroke-linejoin="round"/>
<path d="M390.08,1747.63L398.28,1761.83L381.88,1761.83Z" fill="#fff" stroke="#f00" stroke-width="3.9" stroke-linejoin="round"/>
<path d="M400.50,1748.83L408.70,1763.03L392.30,1763.03Z" fill="#fff" stroke="#f00" stroke-width="3.9" stroke-linejoin="round"/>
<path d="M410.92,1748.83L419.12,1763.03L402.72,1763.03Z" fill="#fff" stroke="#f00" stroke-width="3.9" stroke-linejoin="round"/>
<path d="M421.34,1738.23L429.54,1752.43L413.14,1752.43Z" fill="#fff" stroke="#f00" stroke-width="3.9" stroke-linejoin="round"/>
<path d="M431.76,1743.23L439.96,1757.43L423.56,1757.43Z" fill="#fff" stroke="#f00" stroke-width="3.9" stroke-linejoin="round"/>
<path d="M442.18,1729.03L450.38,1743.23L433.98,1743.23Z" fill="#fff" stroke="#f00" stroke-width="3.9" stroke-linejoin="round"/>
<path d="M452.60,1733.83L460.80,1748.03L444.40,1748.03Z" fill="#fff" stroke="#f00" stroke-width="3.9" stroke-linejoin="round"/>
<path d="M463.02,1727.93L471.22,1742.13L454.82,1742.13Z" fill="#fff" stroke="#f00" stroke-width="3.9" stroke-linejoin="round"/>
<path d="M473.44,1727.93L481.64,1742.13L465.24,1742.13Z" fill="#fff" stroke="#f00" stroke-width="3.9" stroke-linejoin="round"/>
<path d="M483.86,1723.13L492.06,1737.33L475.66,1737.33Z" fill="#fff" stroke="#f00" stroke-width="3.9" stroke-linejoin="round"/>
<path d="M494.28,1720.83L502.48,1735.03L486.08,1735.03Z" fill="#fff" stroke="#f00" stroke-width="3.9" stroke-linejoin="round"/>
<path d="M504.70,1700.73L512.90,1714.93L496.50,1714.93Z" fill="#fff" stroke="#f00" stroke-width="3.9" stroke-linejoin="round"/>
<path d="M515.12,1700.73L523.32,1714.93L506.92,1714.93Z" fill="#fff" stroke="#f00" stroke-width="3.9" stroke-linejoin="round"/>
<path d="M525.54,1699.53L533.74,1713.73L517.34,1713.73Z" fill="#fff" stroke="#f00" stroke-width="3.9" stroke-linejoin="round"/>
<path d="M535.96,1698.33L544.16,1712.53L527.76,1712.53Z" fill="#fff" stroke="#f00" stroke-width="3.9" stroke-linejoin="round"/>
<path d="M546.38,1661.73L554.58,1675.93L538.18,1675.93Z" fill="#fff" stroke="#f00" stroke-width="3.9" stroke-linejoin="round"/>
<path d="M556.80,1636.93L565.00,1651.13L548.60,1651.13Z" fill="#fff" stroke="#f00" stroke-width="3.9" stroke-linejoin="round"/>
<path d="M567.22,1647.53L575.42,1661.73L559.02,1661.73Z" fill="#fff" stroke="#f00" stroke-width="3.9" stroke-linejoin="round"/>
<path d="M577.64,1670.03L585.84,1684.23L569.44,1684.23Z" fill="#fff" stroke="#f00" stroke-width="3.9" stroke-linejoin="round"/>
<path d="M588.06,1662.93L596.26,1677.13L579.86,1677.13Z" fill="#fff" stroke="#f00" stroke-width="3.9" stroke-linejoin="round"/>
<path d="M598.48,1659.33L606.68,1673.53L590.28,1673.53Z" fill="#fff" stroke="#f00" stroke-width="3.9" stroke-linejoin="round"/>
<path d="M608.90,1668.83L617.10,1683.03L600.70,1683.03Z" fill="#fff" stroke="#f00" stroke-width="3.9" stroke-linejoin="round"/>
<path d="M619.32,1653.43L627.52,1667.63L611.12,1667.63Z" fill="#fff" stroke="#f00" stroke-width="3.9" stroke-linejoin="round"/>
<path d="M629.74,1654.63L637.94,1668.83L621.54,1668.83Z" fill="#fff" stroke="#f00" stroke-width="3.9" stroke-linejoin="round"/>
<path d="M640.16,1647.53L648.36,1661.73L631.96,1661.73Z" fill="#fff" stroke="#f00" stroke-width="3.9" stroke-linejoin="round"/>
<path d="M650.58,1613.33L658.78,1627.53L642.38,1627.53Z" fill="#fff" stroke="#f00" stroke-width="3.9" stroke-linejoin="round"/>
<path d="M661.00,1615.73L669.20,1629.93L652.80,1629.93Z" fill="#fff" stroke="#f00" stroke-width="3.9" stroke-linejoin="round"/>
<path d="M671.42,1626.33L679.62,1640.53L663.22,1640.53Z" fill="#fff" stroke="#f00" stroke-width="3.9" stroke-linejoin="round"/>
<path d="M681.84,1609.73L690.04,1623.93L673.64,1623.93Z" fill="#fff" stroke="#f00" stroke-width="3.9" stroke-linejoin="round"/>
<path d="M692.26,1584.93L700.46,1599.13L684.06,1599.13Z" fill="#fff" stroke="#f00" stroke-width="3.9" stroke-linejoin="round"/>
<path d="M702.68,1616.43L710.88,1630.63L694.48,1630.63Z" fill="#fff" stroke="#f00" stroke-width="3.9" stroke-linejoin="round"/>
<path d="M713.10,1570.33L721.30,1584.53L704.90,1584.53Z" fill="#fff" stroke="#f00" stroke-width="3.9" stroke-linejoin="round"/>
<path d="M723.52,1571.53L731.72,1585.73L715.32,1585.73Z" fill="#fff" stroke="#f00" stroke-width="3.9" stroke-linejoin="round"/>
<path d="M733.94,1572.73L742.14,1586.93L725.74,1586.93Z" fill="#fff" stroke="#f00" stroke-width="3.9" stroke-linejoin="round"/>
<path d="M744.36,1535.23L752.56,1549.43L736.16,1549.43Z" fill="#fff" stroke="#f00" stroke-width="3.9" stroke-linejoin="round"/>
<path d="M754.78,1525.43L762.98,1539.63L746.58,1539.63Z" fill="#fff" stroke="#f00" stroke-width="3.9" stroke-linejoin="round"/>
<path d="M765.20,1508.93L773.40,1523.13L757.00,1523.13Z" fill="#fff" stroke="#f00" stroke-width="3.9" stroke-linejoin="round"/>
<path d="M775.62,1516.03L783.82,1530.23L767.42,1530.23Z" fill="#fff" stroke="#f00" stroke-width="3.9" stroke-linejoin="round"/>
<path d="M786.04,1516.03L794.24,1530.23L777.84,1530.23Z" fill="#fff" stroke="#f00" stroke-width="3.9" stroke-linejoin="round"/>
<path d="M796.46,1532.53L804.66,1546.73L788.26,1546.73Z" fill="#fff" stroke="#f00" stroke-width="3.9" stroke-linejoin="round"/>
<path d="M806.88,1495.93L815.08,1510.13L798.68,1510.13Z" fill="#fff" stroke="#f00" stroke-width="3.9" stroke-linejoin="round"/>
<path d="M817.30,1478.23L825.50,1492.43L809.10,1492.43Z" fill="#fff" stroke="#f00" stroke-width="3.9" stroke-linejoin="round"/>
<path d="M827.72,1452.23L835.92,1466.43L819.52,1466.43Z" fill="#fff" stroke="#f00" stroke-width="3.9" stroke-linejoin="round"/>
<path d="M838.14,1436.83L846.34,1451.03L829.94,1451.03Z" fill="#fff" stroke="#f00" stroke-width="3.9" stroke-linejoin="round"/>
<path d="M848.56,1400.23L856.76,1414.43L840.36,1414.43Z" fill="#fff" stroke="#f00" stroke-width="3.9" stroke-linejoin="round"/>
<path d="M858.98,1357.73L867.18,1371.93L850.78,1371.93Z" fill="#fff" stroke="#f00" stroke-width="3.9" stroke-linejoin="round"/>
<path d="M869.40,1363.63L877.60,1377.83L861.20,1377.83Z" fill="#fff" stroke="#f00" stroke-width="3.9" stroke-linejoin="round"/>
<path d="M879.82,1311.63L888.02,1325.83L871.62,1325.83Z" fill="#fff" stroke="#f00" stroke-width="3.9" stroke-linejoin="round"/>
<path d="M890.24,1293.93L898.44,1308.13L882.04,1308.13Z" fill="#fff" stroke="#f00" stroke-width="3.9" stroke-linejoin="round"/>
<path d="M900.66,1263.23L908.86,1277.43L892.46,1277.43Z" fill="#fff" stroke="#f00" stroke-width="3.9" stroke-linejoin="round"/>
<path d="M911.08,1231.33L919.28,1245.53L902.88,1245.53Z" fill="#fff" stroke="#f00" stroke-width="3.9" stroke-linejoin="round"/>
<path d="M921.50,1244.33L929.70,1258.53L913.30,1258.53Z" fill="#fff" stroke="#f00" stroke-width="3.9" stroke-linejoin="round"/>
<path d="M931.92,1218.33L940.12,1232.53L923.72,1232.53Z" fill="#fff" stroke="#f00" stroke-width="3.9" stroke-linejoin="round"/>
<path d="M942.34,1203.03L950.54,1217.23L934.14,1217.23Z" fill="#fff" stroke="#f00" stroke-width="3.9" stroke-linejoin="round"/>
<path d="M952.76,1234.93L960.96,1249.13L944.56,1249.13Z" fill="#fff" stroke="#f00" stroke-width="3.9" stroke-linejoin="round"/>
<path d="M963.18,1237.23L971.38,1251.43L954.98,1251.43Z" fill="#fff" stroke="#f00" stroke-width="3.9" stroke-linejoin="round"/>
<path d="M973.60,1250.23L981.80,1264.43L965.40,1264.43Z" fill="#fff" stroke="#f00" stroke-width="3.9" stroke-linejoin="round"/>
<path d="M984.02,1307.13L992.22,1321.33L975.82,1321.33Z" fill="#fff" stroke="#f00" stroke-width="3.9" stroke-linejoin="round"/>
<path d="M994.44,1359.53L1002.64,1373.73L986.24,1373.73Z" fill="#fff" stroke="#f00" stroke-width="3.9" stroke-linejoin="round"/>
<path d="M1004.86,1446.33L1013.06,1460.53L996.66,1460.53Z" fill="#fff" stroke="#f00" stroke-width="3.9" stroke-linejoin="round"/>
<path d="M1015.28,1534.13L1023.48,1548.33L1007.08,1548.33Z" fill="#fff" stroke="#f00" stroke-width="3.9" stroke-linejoin="round"/>
<path d="M1025.70,1641.93L1033.90,1656.13L1017.50,1656.13Z" fill="#fff" stroke="#f00" stroke-width="3.9" stroke-linejoin="round"/>
<path d="M1036.12,1708.23L1044.32,1722.43L1027.92,1722.43Z" fill="#fff" stroke="#f00" stroke-width="3.9" stroke-linejoin="round"/>
<path d="M1046.54,1756.53L1054.74,1770.73L1038.34,1770.73Z" fill="#fff" stroke="#f00" stroke-width="3.9" stroke-linejoin="round"/>
<path d="M1056.96,1784.13L1065.16,1798.33L1048.76,1798.33Z" fill="#fff" stroke="#f00" stroke-width="3.9" stroke-linejoin="round"/>
<path d="M1067.38,1795.23L1075.58,1809.43L1059.18,1809.43Z" fill="#fff" stroke="#f00" stroke-width="3.9" stroke-linejoin="round"/>
<path d="M1077.80,1799.33L1086.00,1813.53L1069.60,1813.53Z" fill="#fff" stroke="#f00" stroke-width="3.9" stroke-linejoin="round"/>
</g>
<path d="M1084,1811.0H1069M1084,1499.0H1069M1084,1187.0H1069M1084,1655.0H1075M1084,1343.0H1075" stroke="#000" stroke-width="3.6" fill="none" stroke-linecap="round"/>
<rect x="130" y="1032" width="954" height="810" fill="none" stroke="#000" stroke-width="4" stroke-linejoin="round"/>
<text x="108.50" y="1823.50" font-size="49.5" text-anchor="end" >0</text>
<text x="108.50" y="1522.35" font-size="49.5" text-anchor="end" >1</text>
<text x="108.50" y="1221.20" font-size="49.5" text-anchor="end" >2</text>
<text x="1098.47" y="1823.1" font-size="49.5" textLength="83.70" lengthAdjust="spacingAndGlyphs">0.00</text>
<text x="1098.47" y="1511.1" font-size="49.5" textLength="83.70" lengthAdjust="spacingAndGlyphs">0.05</text>
<text x="1098.47" y="1199.1" font-size="49.5" textLength="83.70" lengthAdjust="spacingAndGlyphs">0.10</text>
<text x="130.00" y="1902.00" font-size="49.5" text-anchor="middle" >0</text>
<text x="318.88" y="1902.00" font-size="49.5" text-anchor="middle" >2</text>
<text x="507.76" y="1902.00" font-size="49.5" text-anchor="middle" >4</text>
<text x="696.64" y="1902.00" font-size="49.5" text-anchor="middle" >6</text>
<text x="885.52" y="1902.00" font-size="49.5" text-anchor="middle" >8</text>
<text x="1074.40" y="1902.00" font-size="49.5" text-anchor="middle" >10</text>
<path d="M595.3,1177.8H703.6" stroke="#000" stroke-width="1.7"/>
<circle cx="649.40" cy="1177.80" r="16.65" fill="#fff" stroke="#000" stroke-width="9.9"/>
<path d="M595.3,1252.4H703.6" stroke="#f00" stroke-width="1.7"/>
<path d="M649.00,1228.73L670.36,1265.73L627.64,1265.73Z" fill="#fff" stroke="#f00" stroke-width="9.9" stroke-linejoin="round"/>
<path d="M365.7,1231.6H268" stroke="#000" stroke-width="5.3" stroke-linecap="round"/>
<path d="M252,1231.7L271.3,1225L269.3,1231.7L271.3,1238.6Z" fill="#000" stroke="#000" stroke-width="4" stroke-linejoin="round"/>
<path d="M999.2,1320.65H1064" stroke="#f00" stroke-width="5.6" stroke-linecap="round"/>
<path d="M1079.8,1320.8L1060.2,1314.1L1062.2,1320.8L1060.2,1327.5Z" fill="#f00" stroke="#f00" stroke-width="4" stroke-linejoin="round"/>
<text x="245.40" y="1094.80" font-size="49" textLength="719.50" lengthAdjust="spacingAndGlyphs">Ag ion (120 MeV) in LPCMO/NGO</text>
<text x="1005.21" y="1093.30" font-size="52.5" textLength="67.06" lengthAdjust="spacingAndGlyphs">(b)</text>
<text x="714.21" y="1195.00" font-size="49.5" textLength="40.19" lengthAdjust="spacingAndGlyphs"><tspan stroke="#000" stroke-width="1.3">S</tspan><tspan font-size="29" dy="18.3">e</tspan></text>
<text x="714.24" y="1270.30" font-size="49.5" textLength="42.82" lengthAdjust="spacingAndGlyphs"><tspan stroke="#000" stroke-width="1.3">S</tspan><tspan font-size="29" dy="18.5">n</tspan></text>
<text x="476.30" y="1979.30" font-size="53.5" textLength="263.00" lengthAdjust="spacingAndGlyphs">Depth (µm)</text>
<text transform="translate(41.3,1853.80) rotate(-90)" font-size="49.5" textLength="842.98" lengthAdjust="spacingAndGlyphs">Electronic Energy Loss, dE/dX (keV/Å )</text>
<text transform="translate(1259.6,1859.70) rotate(-90)" font-size="49.5" textLength="793.62" lengthAdjust="spacingAndGlyphs">Nuclear Energy Loss, dE/dX (keV/Å )</text>
</svg></body></html>
